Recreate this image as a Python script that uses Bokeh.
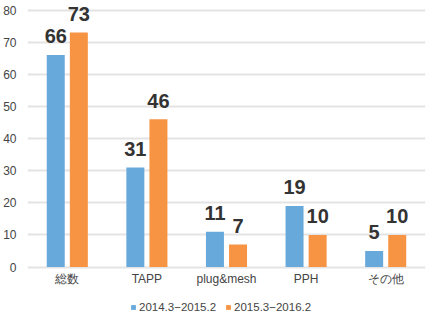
from bokeh.plotting import figure
from bokeh.models import ColumnDataSource, FactorRange, Range1d, Legend, LegendItem
from bokeh.transform import dodge
from bokeh.core.properties import value
from bokeh.embed import file_html
from bokeh.resources import INLINE

categories = ["総数", "TAPP", "plug&mesh", "PPH", "その他"]
series_names = ["2014.3−2015.2", "2015.3−2016.2"]
values_2014 = [66, 31, 11, 19, 5]
values_2015 = [73, 46, 7, 10, 10]
y_ticks = [0, 10, 20, 30, 40, 50, 60, 70, 80]

colors = ["#68a9dc", "#f79444"]

src = ColumnDataSource(dict(
    cat=categories,
    base=[0] * len(categories),
    a=values_2014,
    b=values_2015,
    a_lbl=[str(v) for v in values_2014],
    b_lbl=[str(v) for v in values_2015],
))

p = figure(
    frame_width=398, frame_height=320,
    x_range=FactorRange(*categories, range_padding=0.0),
    y_range=Range1d(-16.65, 82.96),
    x_axis_location=None,
    output_backend="svg", toolbar_location=None,
    min_border_left=26, min_border_right=3, min_border_top=0, min_border_bottom=0,
)
p.outline_line_color = None
p.background_fill_color = "white"
p.border_fill_color = "white"

r1 = p.vbar(x=dodge("cat", -0.145, range=p.x_range), top="a", width=0.226,
            source=src, color=colors[0], line_color=None)
r2 = p.vbar(x=dodge("cat", 0.145, range=p.x_range), top="b", width=0.226,
            source=src, color=colors[1], line_color=None)

LBL_PAD = 3.0  # data units above bar top
p.text(x=dodge("cat", -0.145, range=p.x_range), y=dodge("a", LBL_PAD, range=p.y_range),
       text="a_lbl", source=src, text_align="center", text_baseline="alphabetic",
       y_offset=-9,
       text_font=value("Liberation Sans"), text_font_style="bold",
       text_font_size="20px", text_color="#333333")
p.text(x=dodge("cat", 0.145, range=p.x_range), y=dodge("b", LBL_PAD, range=p.y_range),
       text="b_lbl", source=src, text_align="center", text_baseline="alphabetic",
       y_offset=-9,
       text_font=value("Liberation Sans"), text_font_style="bold",
       text_font_size="20px", text_color="#333333")

# category labels under each group
p.text(x="cat", y="base", text="cat", source=src, text_align="center",
       text_baseline="alphabetic", y_offset=12,
       text_font=value("Liberation Sans"), text_font_size="12px", text_color="#444444")

p.yaxis.ticker = y_ticks
p.ygrid.ticker = y_ticks
p.ygrid.grid_line_color = "#e4e4e4"
p.ygrid.grid_line_width = 2
p.xgrid.grid_line_color = None

ax = p.yaxis[0]
ax.axis_line_color = None
ax.major_tick_line_color = None
ax.minor_tick_line_color = None
ax.major_tick_out = 0
ax.major_tick_in = 0
ax.minor_tick_out = 0
ax.minor_tick_in = 0
ax.major_label_text_font = "Liberation Sans"
ax.major_label_text_color = "#444444"
ax.major_label_text_font_size = "12px"
ax.major_label_standoff = 11

legend = Legend(items=[
    LegendItem(label=series_names[0], renderers=[r1]),
    LegendItem(label=series_names[1], renderers=[r2]),
], orientation="horizontal", location=(103, 7),
    label_text_font="Liberation Sans", label_text_font_size="11.5px", label_text_color="#444444",
    glyph_width=6, glyph_height=6, label_standoff=3, spacing=9,
    border_line_color=None, background_fill_alpha=0, padding=0, margin=0,
    label_height=10)
p.add_layout(legend)

open("out.html", "w").write(file_html(p, INLINE))
